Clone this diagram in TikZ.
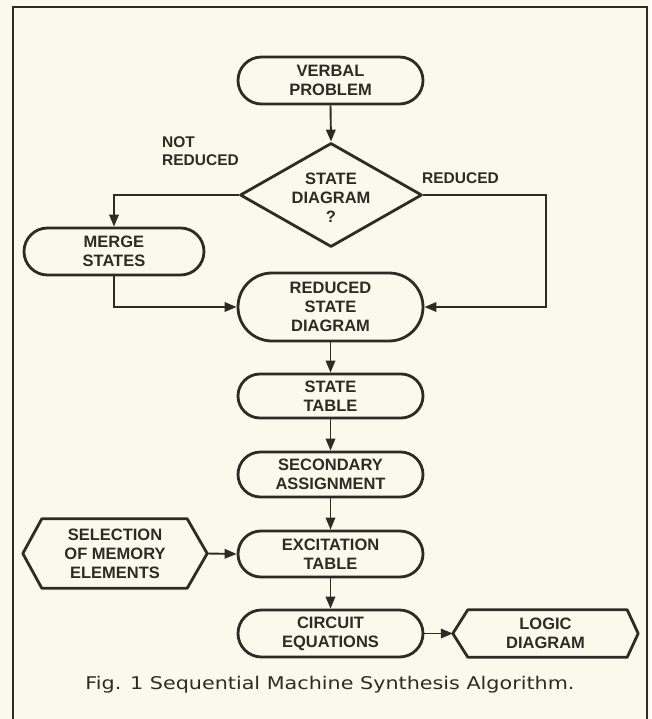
\documentclass[tikz,border=0pt]{standalone}
\usepackage{fontspec}
\setmainfont{Liberation Sans}
\newfontfamily\boxfont{Liberation Sans}
\newfontfamily\capfont{DejaVu Sans}
\usetikzlibrary{shapes.misc,shapes.geometric,arrows.meta,calc}
\definecolor{ink}{RGB}{48,42,38}
\definecolor{paper}{RGB}{251,249,236}
\begin{document}
\begin{tikzpicture}[x=1pt,y=-1pt,
  every node/.style={text=ink},
  txt/.style={font=\boxfont\bfseries\fontsize{16.5}{19}\selectfont, align=center},
  lbl/.style={font=\boxfont\bfseries\fontsize{15.5}{18}\selectfont, inner sep=0pt},
  boxline/.style={draw=ink, line width=2.8pt, line join=round},
  stadium/.style={txt, boxline, rounded rectangle, minimum width=185pt, inner sep=0pt},
  conn/.style={draw=ink, line width=1.9pt, -{Triangle[length=12pt,width=9.5pt]}},
  hexnode/.style={txt, inner sep=0pt}
]
\useasboundingbox (0,0) rectangle (651,719);
\fill[paper] (0,0) rectangle (651,719);
\draw[ink, line width=2.6pt] (13,730) -- (13,7) -- (647,7) -- (647,730);

% main column
\node[stadium, minimum height=47pt] (vp) at (330.5,80.5) {VERBAL\\PROBLEM};
\node[boxline, diamond, minimum width=182pt, minimum height=104pt, inner sep=0pt] (sd) at (331,195) {};
\node[txt] (sdtext) at (331,198) {STATE\\DIAGRAM\\?};
\node[stadium, minimum width=180pt, minimum height=47pt] (ms) at (114,251.5) {MERGE\\STATES};
\node[stadium, minimum height=68pt] (rsd) at (330.5,307) {REDUCED\\STATE\\DIAGRAM};
\node[stadium, minimum height=44pt] (st) at (330.5,396) {STATE\\TABLE};
\node[stadium, minimum height=45pt] (sa) at (330.5,474.5) {SECONDARY\\ASSIGNMENT};
\node[stadium, minimum height=46pt] (et) at (330.5,554) {EXCITATION\\TABLE};
\node[stadium, minimum height=47pt] (ce) at (330.5,633.5) {CIRCUIT\\EQUATIONS};

% hexagons
\node[hexnode, minimum width=184pt, minimum height=69pt] (sel) at (115,553.5) {SELECTION\\OF MEMORY\\ELEMENTS};
\draw[boxline] (sel.west) -- ($(sel.north west)+(19,0)$) -- ($(sel.north east)+(-20,0)$) -- (sel.east)
  -- ($(sel.south east)+(-20,0)$) -- ($(sel.south west)+(19,0)$) -- cycle;
\node[hexnode, minimum width=185pt, minimum height=47pt] (lg) at (545.5,633.5) {LOGIC\\DIAGRAM};
\draw[boxline] (lg.west) -- ($(lg.north west)+(15,0)$) -- ($(lg.north east)+(-11,0)$) -- (lg.east)
  -- ($(lg.south east)+(-11,0)$) -- ($(lg.south west)+(15,0)$) -- cycle;

% labels
\node[lbl, align=left, anchor=base west] (nr) at (162,166) {NOT\\REDUCED};
\node[lbl, anchor=base west] (rd) at (422,184) {REDUCED};

% connectors
\coordinate (rr) at (546,0);
\draw[conn] (vp.south) -- (sd.north);
\draw[conn] (sd.west) -| (ms.north);
\draw[conn] (ms.south) |- (rsd.west);
\draw[conn] (sd.east) -- (sd.east -| rr) |- (rsd.east);
\draw[conn] (rsd.south) -- (st.north);
\draw[conn] (st.south) -- (sa.north);
\draw[conn] (sa.south) -- (et.north);
\draw[conn] (et.south) -- (ce.north);
\draw[conn] (sel.east) -- (et.west);
\draw[conn] (ce.east) -- (lg.west);

% caption
\node[anchor=base, inner sep=0pt] (cap) at (330,689) {\resizebox{489pt}{13.3pt}{\capfont Fig. 1 Sequential Machine Synthesis Algorithm.}};
\end{tikzpicture}
\end{document}
